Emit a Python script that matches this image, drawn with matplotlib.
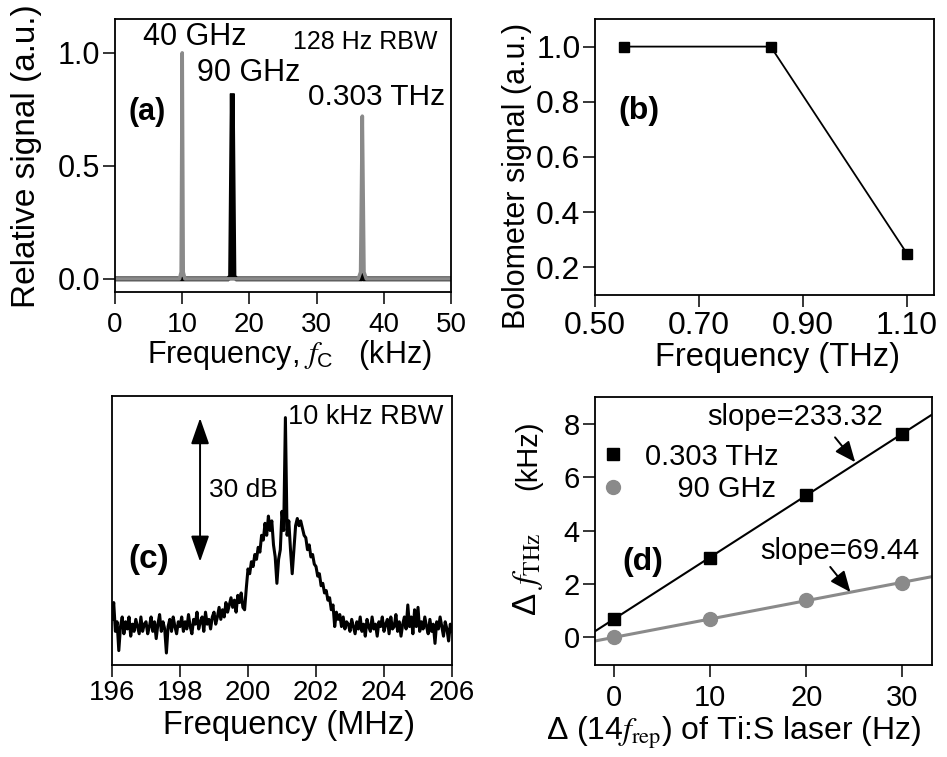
import numpy as np
import matplotlib
matplotlib.use("Agg")
import matplotlib.pyplot as plt

plt.rcParams['font.family'] = ['Liberation Sans', 'DejaVu Sans']
plt.rcParams['mathtext.fontset'] = 'stix'

# ---------------- data ----------------
# (a) beat-note spectra
a_gray_x = [0, 9.6, 9.85, 10.0, 10.15, 10.4, 36.2, 36.55, 36.8, 37.05, 37.4, 50]
a_gray_y = [0, 0, 0.03, 1.0, 0.03, 0, 0, 0.03, 0.72, 0.03, 0, 0]
a_black_x = [0, 16.8, 17.2, 17.45, 17.7, 18.1, 36.5, 36.8, 37.1, 50]
a_black_y = [0, 0, 0.01, 0.82, 0.01, 0, 0, 0.03, 0, 0]
a_xticks = [0, 10, 20, 30, 40, 50]
a_yticks = [0.0, 0.5, 1.0]

# (b) bolometer signal
b_freq = [0.556, 0.838, 1.10]
b_signal = [1.0, 1.0, 0.25]
b_xticks = [0.50, 0.70, 0.90, 1.10]
b_yticks = [0.2, 0.4, 0.6, 0.8, 1.0]

# (c) RF spectrum (dB, arbitrary offset), 0.05 MHz steps from 196 to 206
c_start, c_step = 196.0, 0.05
c_db = [
    9.5, 13, 7, 9, 3, 8, 10, 6.5, 9, 7.5, 10, 6, 8.5, 7, 9.5, 8, 6.5, 10, 7, 8.5,
    9, 6.5, 8, 10, 7, 9, 5.5, 8.5, 10.5, 7, 9, 7.5, 2.5, 8, 9.5, 7, 10, 8, 6.5, 9,
    8, 10, 7, 9, 7.5, 10.5, 8, 6.5, 9.5, 8.5, 11, 7.5, 9, 10, 7, 11, 8.5, 9.5, 7.5, 10,
    11, 8.5, 10, 12, 9.5, 11.5, 10, 13, 11, 12.5, 14, 12, 13.5, 11, 14.5, 13, 15, 12, 11.5, 16,
    20, 19, 21.5, 20.5, 23, 22, 24.5, 23.5, 27, 26, 29.5, 27, 31, 28, 30, 25, 22.5, 17, 22, 24,
    32, 28, 51.5, 27, 30, 24, 19, 24, 29, 30.5, 29, 30, 28.5, 27, 26.5, 24, 25, 22.5, 23, 21,
    20.5, 18.5, 19, 16.5, 17, 15, 15.5, 13.5, 14, 11.5, 12.5, 8, 11, 9.5, 10.5, 8, 10, 7.5, 9, 8.5,
    7, 9.5, 8, 6.5, 9, 7.5, 10, 7, 8.5, 6, 9.5, 8, 7, 10, 7.5, 8.5, 6, 9, 8, 10,
    7, 8.5, 9.5, 6.5, 10, 7.5, 8, 10.5, 7, 9, 6, 8.5, 10, 7.5, 12.5, 8, 10, 6.5, 11.5, 8,
    12, 7, 9, 7.5, 10, 8, 6.5, 9.5, 7, 8.5, 4.5, 9, 7.5, 10, 8, 6, 9, 7.5, 5, 8.5,
    7,
]
c_xticks = [196, 198, 200, 202, 204, 206]

# (d) frequency shift vs rep-rate change
d_x = [0, 10, 20, 30]
d_thz303 = [0.71, 2.98, 5.32, 7.63]
d_ghz90 = [0.0, 0.69, 1.40, 2.05]
d_xticks = [0, 10, 20, 30]
d_yticks = [0, 2, 4, 6, 8]

GRAY = '#8a8a8a'

fig = plt.figure(figsize=(9.47, 7.57), dpi=100)
W, H = 947, 757


def add_ax(l, r, t, b):
    return fig.add_axes([l / W, (H - b) / H, (r - l) / W, (b - t) / H])


def style(ax, xfs, yfs, xpad, ypad):
    for s in ax.spines.values():
        s.set_linewidth(1.3)
    ax.tick_params(direction='out', length=8.5, width=1.1)
    ax.tick_params(axis='x', labelsize=xfs, pad=xpad)
    ax.tick_params(axis='y', labelsize=yfs, pad=ypad)


def place_labels(ax, xl=None, yl=None):
    if xl is not None:
        ax.xaxis.set_label_coords(*xl)
        ax.xaxis.label.set_va('center')
    if yl is not None:
        ax.yaxis.set_label_coords(*yl)
        ax.yaxis.label.set_va('center')


# ---------------- (a) ----------------
axa = add_ax(115, 451, 19, 292)
axa.plot(a_black_x, a_black_y, color='k', lw=3.5, solid_joinstyle='miter')
axa.plot(a_gray_x, a_gray_y, color=GRAY, lw=2.6)
axa.set_xlim(0, 50)
axa.set_ylim(-0.058, 1.15)
axa.set_xticks(a_xticks)
axa.set_yticks(a_yticks)
axa.set_yticklabels(['0.0', '0.5', '1.0'])
style(axa, 20, 22, 6, 2)
axa.set_xlabel('Frequency, $f_{\\mathregular{C}}$   (kHz)', fontsize=22)
axa.set_ylabel('Relative signal (a.u.)', fontsize=24)
place_labels(axa, (0.52, -0.231), (-0.262, 0.496))
axa.text(4.2, 1.07, '40 GHz', fontsize=22, va='center')
axa.text(12.2, 0.91, '90 GHz', fontsize=22, va='center')
axa.text(28.7, 0.805, '0.303 THz', fontsize=21.5, va='center')
axa.text(26.5, 1.05, '128 Hz RBW', fontsize=18, va='center')
axa.text(2.0, 0.74, '(a)', fontsize=22, fontweight='bold', va='center')

# ---------------- (b) ----------------
axb = add_ax(595, 934, 19, 295)
axb.plot(b_freq, b_signal, color='k', lw=1.3, marker='s', ms=7)
axb.set_xlim(0.5, 1.152)
axb.set_ylim(0.1, 1.1)
axb.set_xticks(b_xticks)
axb.set_xticklabels(['0.50', '0.70', '0.90', '1.10'])
axb.set_yticks(b_yticks)
axb.set_yticklabels(['0.2', '0.4', '0.6', '0.8', '1.0'])
style(axb, 23, 23, 3, 2)
axb.set_xlabel('Frequency (THz)', fontsize=23.5)
axb.set_ylabel('Bolometer signal (a.u.)', fontsize=22)
place_labels(axb, (0.537, -0.228), (-0.23, 0.43))
axb.text(0.544, 0.767, '(b)', fontsize=23, fontweight='bold', va='center')

# ---------------- (c) ----------------
axc = add_ax(112, 452, 396, 665)
c_x = c_start + c_step * np.arange(len(c_db))
axc.plot(c_x, c_db, color='k', lw=2.2)
axc.set_xlim(196, 206)
axc.set_ylim(0, 56)
axc.set_xticks(c_xticks)
axc.set_yticks([])
style(axc, 20, 20, 2, 2)
axc.set_xlabel('Frequency (MHz)', fontsize=23.5)
place_labels(axc, (0.52, -0.225))
axc.annotate('', xy=(198.59, 51.4), xytext=(198.59, 21.5),
             arrowprops=dict(arrowstyle='<|-|>,head_length=0.8,head_width=0.28',
                             mutation_scale=20, lw=1.4, color='k', shrinkA=0, shrinkB=0))
axc.text(198.85, 36.5, '30 dB', fontsize=19, va='center')
axc.text(201.18, 51.7, '10 kHz RBW', fontsize=19.5, va='center')
axc.text(196.47, 22.0, '(c)', fontsize=24, fontweight='bold', va='center')

# ---------------- (d) ----------------
axd = add_ax(595, 932, 397, 665)
xl = np.array([-2.0, 33.1])
p1 = np.polyfit(d_x, d_thz303, 1)
p2 = np.polyfit(d_x, d_ghz90, 1)
axd.plot(xl, np.polyval(p1, xl), color='k', lw=1.5)
axd.plot(xl, np.polyval(p2, xl), color=GRAY, lw=2.2)
axd.plot(d_x, d_thz303, 's', color='k', ms=9, label='0.303 THz')
axd.plot(d_x, d_ghz90, 'o', color=GRAY, ms=10, label='    90 GHz')
axd.set_xlim(-2.0, 33.1)
axd.set_ylim(-1.03, 9.0)
axd.set_xticks(d_xticks)
axd.set_yticks(d_yticks)
style(axd, 21, 21, 5, 2.5)
axd.set_xlabel('Δ (14$f_{\\mathrm{rep}}$) of Ti:S laser (Hz)', fontsize=23)
place_labels(axd, (0.41, -0.255))
axd.text(-0.199, 0.784, '(kHz)', fontsize=21, rotation=90, ha='center', va='center',
         transform=axd.transAxes)
axd.text(-0.199, 0.34, 'Δ $f_{\\mathrm{THz}}$', fontsize=24, rotation=90, ha='center',
         va='center', transform=axd.transAxes)
leg = axd.legend(loc='upper left', bbox_to_anchor=(-0.05, 0.906), frameon=False,
                 fontsize=21, handletextpad=0.6, labelspacing=0.15, handlelength=1.0,
                 borderaxespad=0.3)
axd.annotate('', xy=(25.1, 6.56), xytext=(23.0, 7.49),
             arrowprops=dict(arrowstyle='-|>,head_length=0.7,head_width=0.3',
                             mutation_scale=18, lw=1.4, color='k', shrinkA=0, shrinkB=0))
axd.annotate('', xy=(24.6, 1.70), xytext=(22.5, 2.64),
             arrowprops=dict(arrowstyle='-|>,head_length=0.7,head_width=0.3',
                             mutation_scale=18, lw=1.4, color='k', shrinkA=0, shrinkB=0))
axd.text(9.7, 8.27, 'slope=233.32', fontsize=21, va='center')
axd.text(15.2, 3.23, 'slope=69.44', fontsize=21, va='center')
axd.text(0.8, 2.82, '(d)', fontsize=23, fontweight='bold', va='center')

fig.savefig('out.png', dpi=100)
